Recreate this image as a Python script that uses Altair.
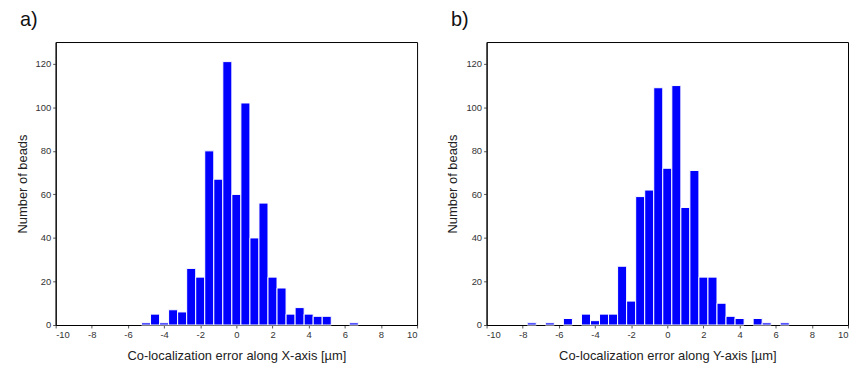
import altair as alt
import pandas as pd

# Panel a: bin centers (µm) and counts
a_centers = [-5.0, -4.5, -4.0, -3.5, -3.0, -2.5, -2.0, -1.5, -1.0, -0.5, 0.0, 0.5, 1.0, 1.5, 2.0, 2.5, 3.0, 3.5, 4.0, 4.5, 5.0, 6.5]
a_counts = [1, 5, 1, 7, 6, 26, 22, 80, 67, 121, 60, 102, 40, 56, 22, 17, 5, 8, 5, 4, 4, 1]

# Panel b: bin centers (µm) and counts
b_centers = [-7.5, -6.5, -5.5, -4.5, -4.0, -3.5, -3.0, -2.5, -2.0, -1.5, -1.0, -0.5, 0.0, 0.5, 1.0, 1.5, 2.0, 2.5, 3.0, 3.5, 4.0, 5.0, 5.5, 6.5]
b_counts = [1, 1, 3, 5, 2, 5, 5, 27, 11, 59, 62, 109, 72, 110, 54, 71, 22, 22, 10, 4, 3, 3, 1, 1]

x_ticks = [-10, -8, -6, -4, -2, 0, 2, 4, 6, 8, 10]
y_ticks = [0, 20, 40, 60, 80, 100, 120]
bin_width = 0.5

FONT = "Liberation Sans"


def panel(centers, counts, label, xtitle):
    df = pd.DataFrame({"c": centers, "count": counts})
    df["x0"] = df["c"] - bin_width / 2
    df["x1"] = df["c"] + bin_width / 2
    return (
        alt.Chart(df)
        .mark_bar(color="#0000ff", stroke="white", strokeWidth=1)
        .encode(
            x=alt.X(
                "x0:Q",
                scale=alt.Scale(domain=[-10, 10], nice=False, zero=False),
                axis=alt.Axis(
                    values=x_ticks, title=xtitle, labelFontSize=9.5, labelColor="#333333",
                    labelExpr="'' + datum.value",
                    titleFontSize=13, titleFontWeight="normal", titleColor="#222222",
                    titlePadding=10, labelPadding=2, tickSize=3, grid=False,
                    domainColor="black", tickColor="#555555", labelFont=FONT, titleFont=FONT,
                ),
            ),
            x2="x1:Q",
            y=alt.Y(
                "count:Q",
                scale=alt.Scale(domain=[0, 130], nice=False),
                axis=alt.Axis(
                    values=y_ticks, title="Number of beads", labelFontSize=9.5, labelColor="#333333",
                    titleFontSize=13, titleFontWeight="normal", titleColor="#222222",
                    titlePadding=6, labelPadding=2, tickSize=3, grid=False,
                    domainColor="black", tickColor="#555555", labelFont=FONT, titleFont=FONT,
                ),
            ),
            y2=alt.datum(0),
        )
        .properties(
            width=364,
            height=285,
            title=alt.TitleParams(label, anchor="start", fontSize=20, fontWeight="normal",
                                  font=FONT, color="#111111", offset=12, dx=4),
        )
    )


pa = panel(a_centers, a_counts, "a)", "Co-localization error along X-axis [µm]")
pb = panel(b_centers, b_counts, "b)", "Co-localization error along Y-axis [µm]")

chart = (
    alt.hconcat(pa, pb, spacing=28)
    .properties(padding={"left": 7, "top": 0, "right": 0, "bottom": 0}, background="white")
    .configure_view(stroke="black", strokeWidth=1)
)

chart.save("out.html", embed_options={"renderer": "svg", "actions": False})
